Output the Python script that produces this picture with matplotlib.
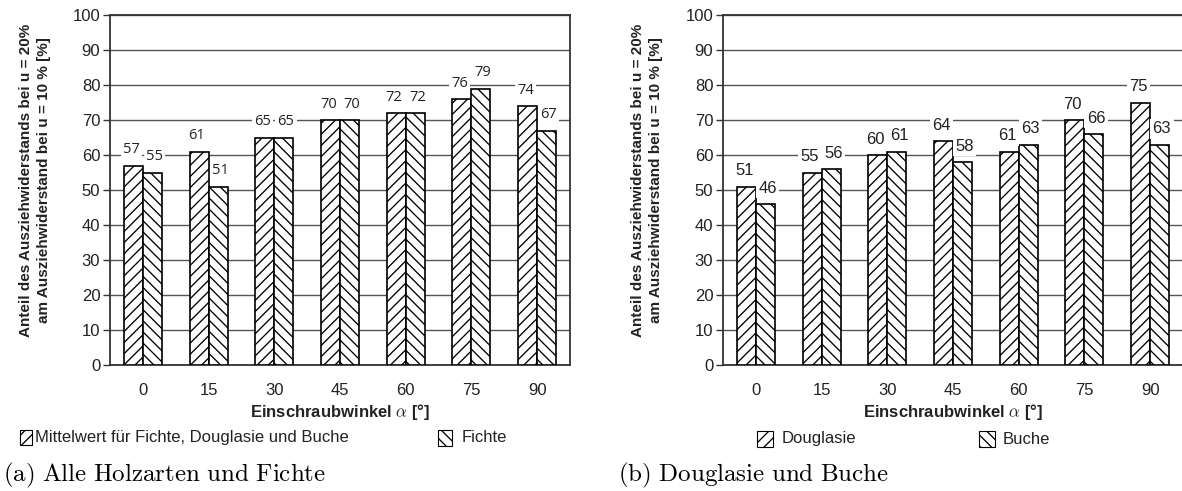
import matplotlib
matplotlib.use('Agg')
import matplotlib.pyplot as plt
from matplotlib.patches import Rectangle
import numpy as np

# ---- data ----
angles = ['0', '15', '30', '45', '60', '75', '90']
mittelwert = [57, 61, 65, 70, 72, 76, 74]
fichte = [55, 51, 65, 70, 72, 79, 67]
douglasie = [51, 55, 60, 64, 61, 70, 75]
buche = [46, 56, 61, 58, 63, 66, 63]
legend_a = ['Mittelwert für Fichte, Douglasie und Buche', 'Fichte']
legend_b = ['Douglasie', 'Buche']
captions = ['(a) Alle Holzarten und Fichte', '(b) Douglasie und Buche']
ylabel_text = 'Anteil des Ausziehwiderstands bei u = 20%\nam Ausziehwiderstand bei u = 10 % [%]'
xlabel_text = r'Einschraubwinkel $\alpha$ [°]'

plt.rcParams['mathtext.fontset'] = 'cm'
plt.rcParams['font.family'] = ['Liberation Sans', 'DejaVu Sans']
plt.rcParams['hatch.linewidth'] = 0.95

W, H = 1182, 491
fig = plt.figure(figsize=(W / 100, H / 100), dpi=100)


def px_rect(x0, x1, ytop, ybot):
    return [x0 / W, 1 - ybot / H, (x1 - x0) / W, (ybot - ytop) / H]


def fx(x):
    return x / W


def fy(y):
    return 1 - y / H


panels = [
    dict(rect=px_rect(110, 570, 15, 365), s1=mittelwert, s2=fichte, leg=legend_a,
         cap=captions[0], capx=3, ylx=35, xlx=340, lblfont='Open Sans', lblsize=10.5,
         legpos=[(20, 32, 430, 445, 35), (438, 452, 430, 446, 462)]),
    dict(rect=px_rect(723, 1183, 15, 365), s1=douglasie, s2=buche, leg=legend_b,
         cap=captions[1], capx=618, ylx=647, xlx=953, lblfont='Liberation Sans', lblsize=12,
         legpos=[(757, 773, 431, 447, 782), (979, 995, 431, 447, 1003)]),
]

w = 0.29
spine_col = '#333333'
for p in panels:
    ax = fig.add_axes(p['rect'])
    x = np.arange(len(angles))
    b1 = ax.bar(x - w / 2, p['s1'], w, facecolor='white', edgecolor='black',
                hatch='///', lw=1.2, zorder=3, label=p['leg'][0])
    b2 = ax.bar(x + w / 2, p['s2'], w, facecolor='white', edgecolor='black',
                hatch='\\\\\\', lw=1.2, zorder=3, label=p['leg'][1])
    ax.set_xlim(-0.5, len(angles) - 0.5)
    ax.set_ylim(0, 100)
    ax.set_yticks(range(0, 101, 10))
    ax.set_xticks(x)
    ax.set_xticklabels(angles)
    ax.yaxis.grid(True, color='#555555', lw=1.0, zorder=0)
    ax.set_axisbelow(True)
    for s in ax.spines.values():
        s.set_color(spine_col)
        s.set_linewidth(1.3)
    ax.tick_params(axis='y', length=5, width=1, color=spine_col, pad=2,
                   labelsize=12, labelcolor='#222222')
    ax.tick_params(axis='x', length=0, pad=13, labelsize=12, labelcolor='#222222')
    for bars, vals, dx in ((b1, p['s1'], -1.5), (b2, p['s2'], 1.5)):
        for rect, v in zip(bars, vals):
            ax.annotate(str(v), (rect.get_x() + rect.get_width() / 2, v),
                        xytext=(dx, 11.5), textcoords='offset points',
                        ha='center', va='center', fontsize=p['lblsize'],
                        family=p['lblfont'], color='#222222', zorder=5,
                        bbox=dict(boxstyle='square,pad=0.15', fc='white', ec='none'))
    # axis labels
    fig.text(fx(p['ylx']), fy(180), ylabel_text, rotation=90, ha='center', va='center',
             multialignment='center', fontsize=11, fontweight='bold', linespacing=1.35,
             color='#222222')
    fig.text(fx(p['xlx']), fy(412), xlabel_text, ha='center', va='center',
             fontsize=12, fontweight='bold', color='#222222')
    # legend (manual)
    for (bx0, bx1, by0, by1, tx), lab, hatch in zip(p['legpos'], p['leg'], ['///', '\\\\\\']):
        fig.add_artist(Rectangle((fx(bx0), fy(by1)), fx(bx1 - bx0), (by1 - by0) / H,
                                 transform=fig.transFigure, facecolor='white',
                                 edgecolor='black', hatch=hatch, lw=0.8))
        fig.text(fx(tx), fy((by0 + by1) / 2), lab, ha='left', va='center',
                 fontsize=12, color='#222222')
    # caption
    cap = r'$\mathrm{' + p['cap'].replace(' ', r'\ ') + '}$'
    fig.text(fx(p['capx']), fy(475), cap, ha='left', va='center', fontsize=18,
             color='black')

fig.savefig('out.png', dpi=100)
